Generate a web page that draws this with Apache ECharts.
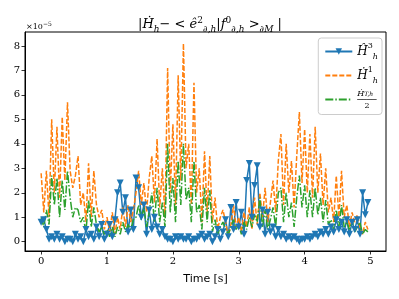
<!DOCTYPE html>
<html>
<head>
<meta charset="utf-8">
<script src="https://cdn.jsdelivr.net/npm/echarts@6/dist/echarts.min.js"></script>
<style>html,body{margin:0;padding:0;background:#fff}#c{width:399px;height:299px}</style>
</head>
<body>
<div id="c"></div>
<script>
// time samples [s]
var times = [
 0,0.04,0.08,0.12,0.16,0.2,0.24,0.28,0.32,0.36,0.4,0.44,0.48,0.52,0.56,0.6,0.64,0.68,0.72,0.76,0.8,0.84,0.88,0.92,0.96,
 1,1.04,1.08,1.12,1.16,1.2,1.24,1.28,1.32,1.36,1.4,1.44,1.48,1.52,1.56,1.6,1.64,1.68,1.72,1.76,1.8,1.84,1.88,1.92,1.96,
 2,2.04,2.08,2.12,2.16,2.2,2.24,2.28,2.32,2.36,2.4,2.44,2.48,2.52,2.56,2.6,2.64,2.68,2.72,2.76,2.8,2.84,2.88,2.92,2.96,
 3,3.04,3.08,3.12,3.16,3.2,3.24,3.28,3.32,3.36,3.4,3.44,3.48,3.52,3.56,3.6,3.64,3.68,3.72,3.76,3.8,3.84,3.88,3.92,3.96,
 4,4.04,4.08,4.12,4.16,4.2,4.24,4.28,4.32,4.36,4.4,4.44,4.48,4.52,4.56,4.6,4.64,4.68,4.72,4.76,4.8,4.84,4.88,4.92,4.96
];
// values in units of 1e-5
var hHat3 = [
 0.8,0.9,0.5,0.1,0.2,0.1,0.3,0.1,0.2,0.0,0.1,0.1,0.0,0.3,0.1,0.2,0.0,0.5,0.2,0.3,0.1,0.6,0.2,0.7,0.1,
 0.3,0.7,0.2,0.9,2.0,2.4,1.2,1.8,0.4,1.3,0.5,2.6,2.2,1.0,1.5,0.3,1.3,0.5,1.0,0.6,0.3,0.5,0.2,0.1,0.1,
 0.0,0.2,0.1,0.2,0.1,0.1,0.2,0.0,0.1,0.1,0.2,0.3,0.1,0.2,0.3,0.0,0.2,0.5,0.1,0.4,0.9,0.2,1.4,0.5,1.6,
 0.6,1.2,0.3,2.5,3.2,1.0,2.3,3.1,0.6,1.3,0.3,1.2,0.4,0.6,0.2,0.5,0.2,0.3,0.1,0.2,0.1,0.2,0.1,0.0,0.1,
 0.1,0.2,0.1,0.2,0.3,0.2,0.4,0.3,0.5,0.3,0.6,0.4,0.9,0.5,0.8,0.4,0.9,0.3,0.8,0.5,0.9,0.3,2.0,1.1,1.6
];
var hDot1 = [
 2.8,1.2,2.9,1.0,5.0,2.0,4.7,1.8,5.1,2.5,5.7,2.9,2.2,2.7,3.5,1.5,2.0,0.8,3.2,1.0,2.9,1.5,1.0,1.3,0.5,
 1.0,0.4,1.2,0.3,1.0,0.5,1.4,0.6,1.5,0.8,1.3,2.0,2.9,1.5,2.4,1.2,2.6,3.5,1.6,4.2,1.4,3.0,1.0,7.1,2.0,
 4.8,1.5,6.8,2.5,8.1,3.0,4.0,1.5,6.5,2.0,3.0,0.8,3.7,1.2,3.5,0.8,1.8,0.5,1.0,1.3,0.8,0.2,0.7,1.5,0.6,
 1.0,0.4,1.2,0.6,1.4,0.5,1.8,0.7,2.0,1.0,2.2,0.8,1.6,2.5,1.2,3.3,4.4,1.5,4.0,2.0,3.3,1.4,3.5,5.3,2.4,
 4.6,2.0,4.4,1.8,4.7,2.0,3.6,1.5,3.0,1.2,1.8,0.8,2.7,1.0,2.9,1.0,1.5,0.6,1.2,0.8,1.1,0.6,0.3,0.8,0.5
];
var hT2 = [
 1.0,0.6,1.3,0.7,2.7,1.5,2.6,1.0,2.5,1.3,2.9,1.8,1.0,1.4,1.3,0.8,1.0,0.4,1.7,0.6,1.4,0.7,0.4,0.6,0.3,
 0.5,0.2,0.6,0.2,0.6,0.3,0.8,0.4,0.7,0.5,0.9,1.0,1.5,0.9,1.4,0.6,1.2,2.0,0.8,2.2,0.8,1.6,0.6,4.0,1.2,
 2.6,0.8,3.3,1.5,4.0,1.7,2.2,0.8,3.3,1.2,1.5,0.5,2.2,0.8,2.1,0.4,0.9,0.3,0.6,0.8,0.5,0.3,0.6,0.9,0.5,
 0.7,0.3,0.8,0.5,1.0,0.6,1.1,0.8,1.8,0.6,1.3,0.5,0.9,1.4,0.6,2.0,2.2,0.8,2.0,1.0,1.6,0.6,1.8,2.7,1.4,
 2.3,1.0,2.1,1.0,2.2,1.1,1.8,0.8,1.7,0.7,0.9,0.5,1.3,0.6,1.5,0.6,0.8,0.5,0.9,0.4,0.6,0.8,0.3,0.5,0.4
];
var xTicks = [0,1,2,3,4,5];
var yTicks = [0,1,2,3,4,5,6,7,8];
var seriesNames = ['hhat3','hdot1','hT2'];

function pairs(v){ return times.map(function(t,i){ return [t, v[i]]; }); }

var SERIF = '"DejaVu Serif", "Liberation Serif", serif';
var mathRich = function(base){
  var s = Math.round(base*0.7);
  return {
    r:  {fontFamily: SERIF, fontWeight:'normal', fontSize: base, lineHeight: base+5, color:'#000'},
    m:  {fontFamily: SERIF, fontWeight:'normal', fontStyle:'italic', fontSize: base, lineHeight: base+5, color:'#000'},
    sp: {fontFamily: SERIF, fontWeight:'normal', fontSize: s, lineHeight: s+1, verticalAlign:'top', color:'#000'},
    sb: {fontFamily: SERIF, fontWeight:'normal', fontStyle:'italic', fontSize: s, lineHeight: s+1, verticalAlign:'bottom', color:'#000'}
  };
};

var chart = echarts.init(document.getElementById('c'), null, {renderer:'canvas'});
var legendRich = {
  lm: {fontFamily: SERIF, fontStyle:'italic', fontSize: 12, lineHeight: 19, color:'#000'},
  lsp:{fontFamily: SERIF, fontSize: 8, lineHeight: 8, verticalAlign:'top', color:'#000'},
  lsb:{fontFamily: SERIF, fontStyle:'italic', fontSize: 8, lineHeight: 8, verticalAlign:'bottom', color:'#000'},
  fn: {fontFamily: SERIF, fontStyle:'italic', fontSize: 8, lineHeight: 9, color:'#000'},
  fns:{fontFamily: SERIF, fontStyle:'italic', fontSize: 6, lineHeight: 9, color:'#000'},
  fb: {fontFamily: SERIF, fontSize: 8, lineHeight: 3, color:'#000', align:'center'},
  fd: {fontFamily: SERIF, fontSize: 8, lineHeight: 8, color:'#000', align:'center'}
};
var legendText = {
  hhat3: '{lm|Ĥ}{lsp|3}{lsb|h}',
  hdot1: '{lm|Ḣ}{lsp|1}{lsb|h}',
  hT2: '{fn|Ḣ}{fns|T,h}\n{fb|────}\n{fd|2}'
};

chart.setOption({
  animation: false,
  backgroundColor: '#fff',
  title: {
    text: '{r||}{m|Ḣ}{sb|h}{r|− < }{m|ê}{sp|2}{sb|∂,h}{r||}{m|f}{sp|0}{sb|∂,h}{r| >}{sb|∂M}{r| |}',
    left: 205, top: 11, textAlign: 'center',
    textStyle: {fontWeight: 'normal', rich: mathRich(13)}
  },
  graphic: [{
    type: 'text', left: 26, top: 21,
    style: {text: '×10{sp|−5}', rich: {sp:{fontFamily:SERIF,fontSize:6,lineHeight:6,verticalAlign:'top',fill:'#000'}}, fontFamily: SERIF, fontSize: 8, lineHeight: 11, fill:'#000'}
  }],
  grid: {left: 25, right: 13, top: 32, bottom: 48, show: true, borderColor: '#000', borderWidth: 1, backgroundColor:'#fff'},
  legend: {
    orient: 'vertical', right: 17, top: 38,
    padding: [4, 4, 5, 6], itemGap: 5, itemWidth: 27, itemHeight: 8,
    backgroundColor: 'rgba(255,255,255,0.8)', borderColor: '#ccc', borderWidth: 1, borderRadius: 3,
    data: [
      {name: 'hhat3'},
      {name: 'hdot1', itemStyle: {opacity: 0}},
      {name: 'hT2', itemStyle: {opacity: 0}}
    ],
    formatter: function(n){ return legendText[n]; },
    textStyle: {rich: legendRich}
  },
  xAxis: {
    type: 'value', min: -0.245, max: 5.235,
    name: '{s|Time} {r|[s]}', nameLocation: 'middle', nameGap: 22,
    nameTextStyle: {rich: {s:{fontFamily:'"DejaVu Sans", sans-serif', fontSize: 11, color:'#000'}, r:{fontFamily:SERIF, fontSize: 11, color:'#000'}}},
    axisLine: {show: true, onZero: false, lineStyle: {color: '#000', width: 1}},
    axisTick: {show: true, length: 3.5, lineStyle: {color:'#000', width: 0.8}, customValues: xTicks},
    axisLabel: {customValues: xTicks, fontFamily: SERIF, fontSize: 10, color: '#000', margin: 5},
    splitLine: {show: false}
  },
  yAxis: {
    type: 'value', min: -0.38, max: 8.57,
    axisLine: {show: true, onZero: false, lineStyle: {color: '#000', width: 1}},
    axisTick: {show: true, length: 3.5, lineStyle: {color:'#000', width: 0.8}, customValues: yTicks},
    axisLabel: {customValues: yTicks, fontFamily: SERIF, fontSize: 10, color: '#000', margin: 5},
    splitLine: {show: false}
  },
  series: [
    {name: 'hhat3', type: 'line', data: pairs(hHat3), symbol: 'triangle', symbolRotate: 180, symbolSize: 7,
     showSymbol: true, showAllSymbol: true, color: '#1f77b4', itemStyle: {color:'#1f77b4'},
     lineStyle: {color: '#1f77b4', width: 1.5}},
    {name: 'hdot1', type: 'line', data: pairs(hDot1), symbol: 'none', color: '#ff7f0e',
     lineStyle: {color: '#ff7f0e', width: 1.5, type: [5, 2]}},
    {name: 'hT2', type: 'line', data: pairs(hT2), symbol: 'none', color: '#2ca02c',
     lineStyle: {color: '#2ca02c', width: 1.5, type: [8, 2, 1.5, 2]}}
  ]
});
</script>
</body>
</html>
